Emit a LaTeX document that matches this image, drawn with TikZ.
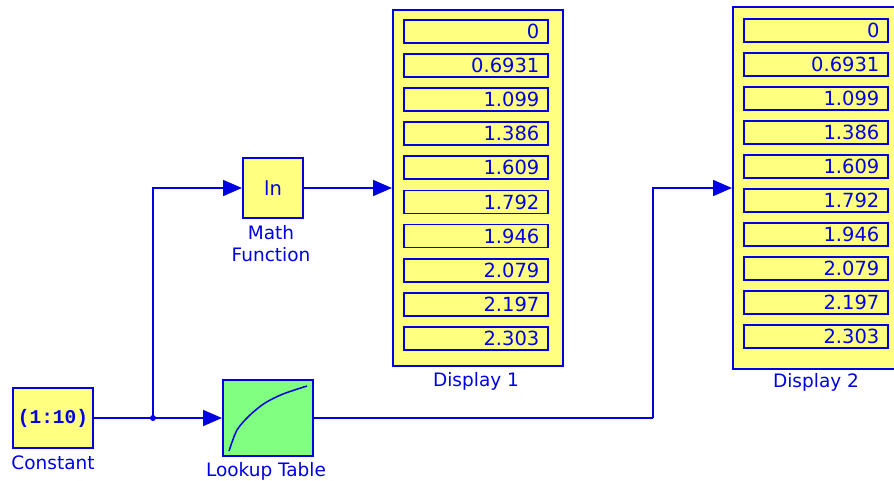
\documentclass[tikz,border=0pt]{standalone}
\usepackage{fontspec}
\setmainfont{DejaVu Sans}
\newfontfamily\cmono{Liberation Mono}
\usetikzlibrary{arrows.meta}
\definecolor{sblue}{RGB}{0,0,225}
\definecolor{syellow}{RGB}{255,255,128}
\definecolor{sgreen}{RGB}{128,255,128}
\newcommand{\fsz}{\fontsize{18.5}{22}\selectfont}
\newcommand{\fszv}{\fontsize{19.5}{22}\selectfont}
\tikzset{
  block/.style={draw=sblue, line width=2pt, inner sep=0pt, text=sblue, font=\fsz},
  field/.style={draw=sblue, line width=1.8pt, fill=syellow, minimum height=23pt,
    text width=127pt, inner xsep=8.5pt, inner ysep=0pt, align=right, text=sblue,
    font=\fszv, anchor=north west},
  lbl/.style={text=sblue, font=\fsz, inner sep=0pt, align=center},
  wire/.style={draw=sblue, line width=1.8pt},
  arr/.style={wire, -{Triangle[length=19pt,width=16pt]}}
}
\begin{document}
\begin{tikzpicture}[x=1pt,y=-1pt]
\useasboundingbox (0,0) rectangle (894,480);
\fill[white] (0,0) rectangle (894,480);

% blocks
\node[block, fill=syellow, minimum width=80pt, minimum height=60pt] (const) at (53,418)
  {\fontsize{19.5}{20}\cmono\bfseries (1:10)};
\node[block, fill=sgreen, minimum width=90pt, minimum height=76pt] (lut) at (268,418) {};
\node[block, fill=syellow, minimum width=60pt, minimum height=60pt] (mathf) at (273,188) {\fontsize{19.5}{22}\selectfont ln};
\node[block, fill=syellow, minimum width=170pt, minimum height=356pt] (d1) at (478,188) {};
\node[block, fill=syellow, minimum width=170pt, minimum height=362pt] (d2) at (818,188) {};

% lookup curve
\draw[sblue, line width=1.5pt] plot[smooth] coordinates
  {(229,451) (237,430) (250,415) (265,403) (283,394) (307,386)};

% display fields
\foreach \v [count=\i from 0] in {0,0.6931,1.099,1.386,1.609,1.792,1.946,2.079,2.197,2.303} {
  \node[field] (da\i) at (403,{19+34.1*\i}) {\v};
  \node[field] (db\i) at (743,{18+34*\i}) {\v};
}

% labels
\node[lbl] (constlbl) at (53,463) {Constant};
\node[lbl] (lutlbl) at (266,471) {Lookup Table};
\node[lbl] (mathlbl) at (271,244) {Math\\Function};
\node[lbl] (d1lbl) at (476,381) {Display 1};
\node[lbl] (d2lbl) at (816,382) {Display 2};

% wires
\coordinate (junc) at (153,418);
\coordinate (bend) at (653,418);
\draw[wire] (const.east) -- (junc);
\draw[arr] (junc) -- (lut.west);
\draw[arr] (junc) |- (mathf.west);
\draw[arr] (mathf.east) -- (d1.west);
\draw[wire] (lut.east) -- (bend);
\draw[arr] (bend) |- (d2.west);
\fill[sblue] (junc) circle (3pt);
\end{tikzpicture}
\end{document}
